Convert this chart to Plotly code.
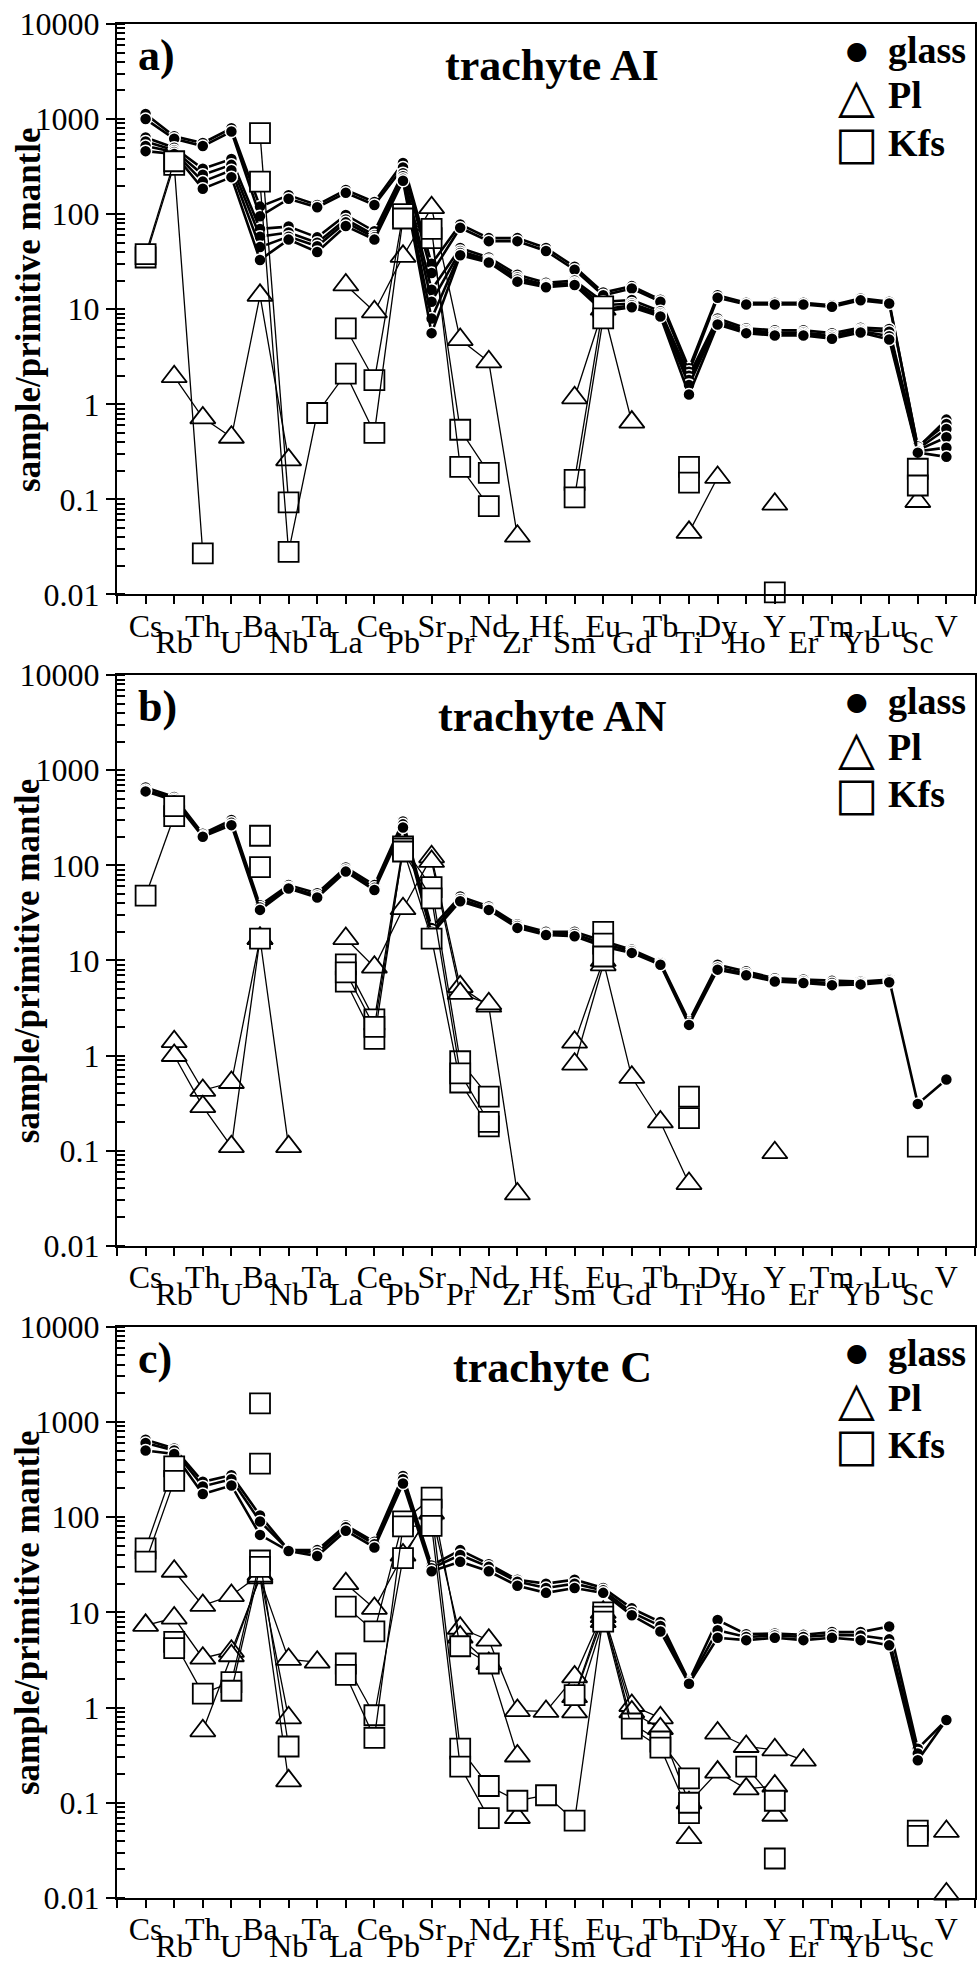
import plotly.graph_objects as go

elements = ["Cs","Rb","Th","U","Ba","Nb","Ta","La","Ce","Pb","Sr","Pr","Nd","Zr","Hf",
            "Sm","Eu","Gd","Tb","Ti","Dy","Ho","Y","Er","Tm","Yb","Lu","Sc","V"]
N = None
panel_titles = ["trachyte AI", "trachyte AN", "trachyte C"]
panel_letters = ["a)", "b)", "c)"]
legend_names = ["glass", "Pl", "Kfs"]
y_tick_vals = [0.01, 0.1, 1, 10, 100, 1000, 10000]
y_tick_text = ["0.01", "0.1", "1", "10", "100", "1000", "10000"]

# ---- panel a: trachyte AI ----
a_glass = [
    [1130, 660, 560, 800, 120, 158, 125, 180, 134, 346, 30, 78, 56, 56, 44, 28, 15, 17.5, 12.6, 2.4, 14, 11.7, 11.7, 11.7, 11, 13, 12, 0.35, 0.69],
    [1000, 620, 520, 740, 95, 145, 118, 168, 125, 310, 24, 72, 52, 52, 41, 26, 14, 16.5, 12, 2.2, 13.2, 11.2, 11.2, 11.2, 10.6, 12.4, 11.5, 0.36, 0.62],
    [640, 500, 300, 380, 70, 74, 57, 98, 66, 270, 16, 44, 35, 23, 19, 20, 12, 12.5, 9.5, 2.0, 8, 6.3, 6, 6, 5.6, 6.4, 6.2, 0.34, 0.55],
    [580, 470, 260, 330, 58, 64, 50, 88, 60, 250, 12, 41, 33, 21.5, 18, 19, 11, 11.5, 9.0, 1.8, 7.5, 6.0, 5.7, 5.7, 5.3, 6.1, 5.8, 0.33, 0.45],
    [520, 450, 220, 290, 45, 58, 46, 82, 57, 235, 8, 39, 32, 20.5, 17.5, 18.5, 10, 11, 8.7, 1.6, 7.2, 5.8, 5.5, 5.5, 5.1, 5.9, 5.2, 0.32, 0.35],
    [460, 430, 185, 245, 33, 54, 40, 75, 54, 225, 5.6, 37, 31, 19.5, 17, 18, 9.5, 10.5, 8.4, 1.27, 6.9, 5.6, 5.3, 5.3, 4.9, 5.7, 4.8, 0.31, 0.28],
]
a_pl = [
    [N, 1.95, 0.72, 0.45, 14, 0.26, N, 18, 9.4, 36, 117, 4.8, 2.8, 0.041, N, 1.17, 10, 0.65, N, 0.045, 0.17, N, 0.089, N, N, N, N, 0.095, N],
]
a_kfs = [
    [35, 330, 0.027, N, 710, 0.093, N, 6.3, 1.8, 100, 56, 0.54, 0.19, N, N, 0.16, 10.7, N, N, 0.22, N, N, 0.0105, N, N, N, N, 0.21, N],
    [38, 360, N, N, 220, 0.028, 0.81, 2.1, 0.5, 90, 70, 0.22, 0.085, N, N, 0.105, 8, N, N, 0.15, N, N, N, N, N, N, N, 0.14, N],
]

# ---- panel b: trachyte AN ----
b_glass = [
    [660, 525, 215, 300, 38, 62, 51, 95, 62, 290, 22, 47, 37, 24, 20, 20, 16, 13, 9.6, 2.3, 9.0, 7.7, 6.5, 6.3, 6.1, 6.0, 6.3, 0.31, 0.56],
    [620, 500, 205, 280, 36, 59, 48, 90, 58, 270, 20, 44, 35, 23, 19, 19, 15, 12.5, 9.3, 2.2, 8.4, 7.3, 6.2, 6.0, 5.8, 5.8, 6.1, N, N],
    [600, 480, 200, 265, 34, 57, 46, 86, 55, 250, 19, 42, 34, 22, 18.5, 18, 14, 12, 9.0, 2.1, 8.0, 7.0, 6.0, 5.8, 5.5, 5.6, 5.9, N, N],
]
b_pl = [
    [N, 1.4, 0.43, 0.52, 17, N, N, 17, 8.5, 35, 123, 5.3, 3.3, 0.035, N, 1.38, 10, 0.59, 0.2, 0.045, N, N, 0.095, N, N, N, N, N, N],
    [N, 1.0, 0.29, 0.11, 17, 0.11, N, N, N, N, 110, 4.5, 3.5, N, N, 0.81, 9, N, N, N, N, N, N, N, N, N, N, N, N],
]
b_kfs = [
    [48, 330, N, N, 205, N, N, 9.1, 2.4, 158, 59, 0.87, 0.37, N, N, N, 20, N, N, 0.37, N, N, N, N, N, N, N, 0.11, N],
    [N, 420, N, N, 96, N, N, 6.0, 1.5, 150, 17, 0.52, 0.18, N, N, N, 15, N, N, 0.22, N, N, N, N, N, N, N, N, N],
    [N, N, N, N, 17, N, N, 7.5, 2.0, 140, 45, 0.65, 0.2, N, N, N, 11, N, N, N, N, N, N, N, N, N, N, N, N],
]

# ---- panel c: trachyte C ----
c_glass = [
    [650, 525, 235, 275, 104, 45, 45, 82, 55, 270, 31, 45, 32, 22, 20, 22, 18, 11, 7.9, 1.9, 8.3, 5.9, 6.0, 5.8, 6.2, 6.2, 7.1, 0.37, 0.74],
    [600, 500, 210, 250, 90, 45, 42, 78, 52, 250, 29, 40, 30, 21, 18, 20, 17, 10, 7.2, 1.85, 6.5, 5.5, 5.7, 5.5, 5.8, 5.7, 5.2, 0.33, N],
    [500, 460, 175, 215, 65, 44, 39, 72, 48, 225, 27, 34, 27, 19, 16, 18, 16, 9.3, 6.3, 1.78, 5.4, 5.1, 5.4, 5.1, 5.4, 5.1, 4.5, 0.28, 0.74],
]
c_pl = [
    [7.3, 8.7, 3.3, 3.9, 23, 3.2, 3.0, N, N, N, N, 6.8, 5.1, 0.93, 0.91, 2.1, 10, 1.05, 0.78, N, 0.54, 0.39, 0.36, 0.28, N, N, N, N, 0.05],
    [N, 27, 11.8, 15, 25, 0.78, N, 20, 11, 40, 110, 5.5, 2.9, 0.31, N, 1.3, 9, 0.9, 0.6, 0.1, 0.21, 0.14, 0.15, N, N, N, N, N, 0.011],
    [N, N, 0.57, 3.5, 24, 0.17, N, N, N, N, N, N, N, 0.07, N, 0.9, 8, N, N, 0.043, N, N, 0.074, N, N, N, N, N, N],
]
c_kfs = [
    [47, 340, N, N, 1560, N, N, 11.5, 6.3, 90, 160, 4.4, 2.9, N, N, 1.35, 10, 0.68, 0.44, 0.18, N, 0.24, 0.105, N, N, N, N, 0.051, N],
    [34, 240, N, N, 365, N, N, 2.9, 0.83, 37, 120, 0.37, 0.15, 0.105, 0.12, 0.065, 9, 0.6, 0.38, 0.078, N, N, 0.026, N, N, N, N, 0.045, N],
    [N, 4.9, 1.4, 1.85, 35, 0.39, N, 2.2, 0.48, 80, 81, 0.24, 0.069, N, N, N, 8, N, N, 0.1, N, N, N, N, N, N, N, N, N],
    [N, 4.2, N, 1.5, 30, N, N, N, N, N, N, N, N, N, N, N, N, N, N, N, N, N, N, N, N, N, N, N, N],
]

panels = [(a_glass, a_pl, a_kfs), (b_glass, b_pl, b_kfs), (c_glass, c_pl, c_kfs)]

SERIF = "Liberation Serif"
SYM = "DejaVu Sans"
x_pos = list(range(1, len(elements) + 1))

odd_text = [""] + [e if k % 2 == 0 else "" for k, e in enumerate(elements)] + [""]
even_vals = [k + 1 for k in range(len(elements)) if k % 2 == 1]
even_text = [elements[k] for k in range(len(elements)) if k % 2 == 1]

fig = go.Figure()
domains = [[0.6956, 1.0], [0.3481, 0.6525], [0.0, 0.3049]]

for i, (glass, pl, kfs) in enumerate(panels):
    xa = "x" if i == 0 else f"x{i+1}"
    ya = "y" if i == 0 else f"y{i+1}"
    for s in glass:
        fig.add_trace(go.Scatter(
            x=x_pos, y=s, xaxis=xa, yaxis=ya, mode="lines+markers",
            connectgaps=False, cliponaxis=False, showlegend=False,
            line=dict(color="black", width=2.6),
            marker=dict(symbol="circle", size=12, color="black",
                        line=dict(color="white", width=1.5))))
    for s in pl:
        fig.add_trace(go.Scatter(
            x=x_pos, y=s, xaxis=xa, yaxis=ya, mode="lines+markers",
            connectgaps=False, cliponaxis=False, showlegend=False,
            line=dict(color="black", width=1.3),
            marker=dict(symbol="triangle-up", size=22, color="white",
                        line=dict(color="black", width=1.8))))
    for s in kfs:
        fig.add_trace(go.Scatter(
            x=x_pos, y=s, xaxis=xa, yaxis=ya, mode="lines+markers",
            connectgaps=False, cliponaxis=False, showlegend=False,
            line=dict(color="black", width=1.3),
            marker=dict(symbol="square", size=20, color="white",
                        line=dict(color="black", width=1.8))))
    # invisible carrier so the second-row label axis is rendered
    fig.add_trace(go.Scatter(
        x=even_vals, y=[1] * len(even_vals), xaxis=f"x{i+4}", yaxis=ya,
        mode="markers", marker=dict(opacity=0, size=1), showlegend=False,
        hoverinfo="skip"))

layout = dict(
    width=979, height=1966,
    margin=dict(l=117, r=2, t=24, b=66),
    paper_bgcolor="white", plot_bgcolor="white",
    showlegend=False,
    font=dict(family=SERIF, color="black", size=32),
)

annotations = []
for i in range(3):
    sfx = "" if i == 0 else str(i + 1)
    lbl_sfx = str(i + 4)
    layout["xaxis" + sfx] = dict(
        domain=[0, 1], range=[0, 30], anchor="y" + sfx,
        tickmode="array", tickvals=list(range(0, 31)), ticktext=odd_text,
        ticks="outside", ticklen=8, tickwidth=2, tickcolor="black",
        showline=True, mirror=True, linecolor="black", linewidth=2,
        showgrid=False, zeroline=False, ticklabelstandoff=-6,
        tickfont=dict(family=SERIF, size=32, color="black"))
    layout["xaxis" + lbl_sfx] = dict(
        overlaying="x" + sfx, anchor="y" + sfx, range=[0, 30], side="bottom",
        tickmode="array", tickvals=even_vals, ticktext=even_text,
        ticks="", showline=False, showgrid=False, zeroline=False,
        ticklabelstandoff=26,
        tickfont=dict(family=SERIF, size=32, color="black"))
    layout["yaxis" + sfx] = dict(
        domain=domains[i], type="log", range=[-2, 4], anchor="x" + sfx,
        tickmode="array", tickvals=y_tick_vals, ticktext=y_tick_text,
        ticks="outside", ticklen=9, tickwidth=2, tickcolor="black",
        minor=dict(ticks="inside", ticklen=8, tickwidth=1.5, tickcolor="black",
                   dtick="D1", showgrid=False),
        showline=True, mirror=True, linecolor="black", linewidth=2,
        showgrid=False, zeroline=False,
        tickfont=dict(family=SERIF, size=32, color="black"))

    xd = ("x" if i == 0 else f"x{i+1}") + " domain"
    yd = ("y" if i == 0 else f"y{i+1}") + " domain"
    annotations.append(dict(text="<b>" + panel_letters[i] + "</b>", xref=xd, yref=yd,
                            x=0.022, y=0.945, xanchor="left", yanchor="middle",
                            showarrow=False, font=dict(family=SERIF, size=44)))
    annotations.append(dict(text="<b>" + panel_titles[i] + "</b>", xref=xd, yref=yd,
                            x=0.507, y=0.928, xanchor="center", yanchor="middle",
                            showarrow=False, font=dict(family=SERIF, size=44)))
    annotations.append(dict(text="<b>sample/primitive mantle</b>", xref="paper", yref=yd,
                            x=-0.104, y=0.5, xanchor="center", yanchor="middle",
                            textangle=-90, showarrow=False,
                            font=dict(family=SERIF, size=35)))
    sym_text = ["●", "△", "□"]
    sym_size = [25, 48, 46]
    rows = [0.954, 0.875, 0.792]
    for k in range(3):
        annotations.append(dict(text=sym_text[k], xref=xd, yref=yd, x=0.862, y=rows[k],
                                xanchor="center", yanchor="middle", showarrow=False,
                                font=dict(family=SYM, size=sym_size[k])))
        annotations.append(dict(text="<b>" + legend_names[k] + "</b>", xref=xd, yref=yd,
                                x=0.896, y=rows[k], xanchor="left", yanchor="middle",
                                showarrow=False, font=dict(family=SERIF, size=38)))

layout["annotations"] = annotations
fig.update_layout(**layout)
fig.write_html("out.html")
